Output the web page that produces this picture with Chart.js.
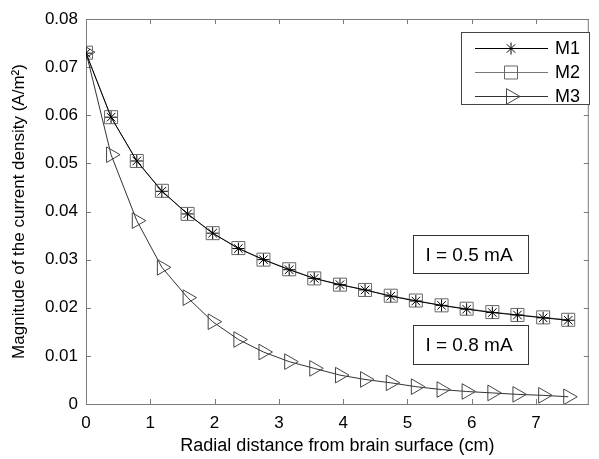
<!DOCTYPE html>
<html lang="en">
<head>
    <meta charset="UTF-8">
    <title>Current density vs radial distance</title>
    <script src="https://cdn.jsdelivr.net/npm/chart.js@4.4.1/dist/chart.umd.min.js"></script>
    <style>
        html, body {
            margin: 0;
            padding: 0;
            background: #fff;
        }

        #wrap {
            width: 599px;
            height: 459px;
        }
    </style>
</head>
<body>

<div id="wrap"><canvas id="myChart" width="599" height="459"></canvas></div>

<script>
    // radial distance (cm)
    var distances = [0, 0.39, 0.79, 1.18, 1.58, 1.97, 2.37, 2.76, 3.16, 3.55, 3.95, 4.34, 4.74, 5.13, 5.53, 5.92, 6.32, 6.71, 7.11, 7.5];

    // current density magnitude (A/m^2)
    var m1Values = [0.0729, 0.0596, 0.0505, 0.0442, 0.0395, 0.0355, 0.0323, 0.0300, 0.0279, 0.0261, 0.0248, 0.0237, 0.0224, 0.0214, 0.0205, 0.0197, 0.0190, 0.0185, 0.0179, 0.0174];
    var m2Values = [0.0730, 0.0596, 0.0505, 0.0443, 0.0395, 0.0355, 0.0324, 0.0300, 0.0280, 0.0261, 0.0248, 0.0237, 0.0225, 0.0215, 0.0205, 0.0198, 0.0191, 0.0185, 0.0180, 0.0175];
    var m3Values = [0.0731, 0.0518, 0.0381, 0.0284, 0.0221, 0.0171, 0.0134, 0.0108, 0.0088, 0.0074, 0.0060, 0.0051, 0.0044, 0.0036, 0.0030, 0.0026, 0.0023, 0.0020, 0.0018, 0.0015];

    var seriesNames = ['M1', 'M2', 'M3'];
    var yTicks = [0, 0.01, 0.02, 0.03, 0.04, 0.05, 0.06, 0.07, 0.08];
    var xTicks = [0, 1, 2, 3, 4, 5, 6, 7];
    var notes = ['I = 0.5 mA', 'I = 0.8 mA'];

    var FONT = 'Arial, "Liberation Sans", sans-serif';
    var AXIS_GREY = '#7a7a7a';

    function toPoints(vals) {
        return vals.map(function(v, i) { return { x: distances[i], y: v }; });
    }

    // inward tick marks + top/right frame, like the original figure
    var framePlugin = {
        id: 'frame',
        beforeDatasetsDraw: function(chart) {
            var ctx = chart.ctx, a = chart.chartArea;
            var xs = chart.scales.x, ys = chart.scales.y;
            ctx.save();
            ctx.strokeStyle = AXIS_GREY;
            ctx.lineWidth = 1;
            ctx.beginPath();
            ctx.moveTo(a.left, a.top + 0.5);
            ctx.lineTo(a.right, a.top + 0.5);
            ctx.moveTo(a.right - 0.5, a.top);
            ctx.lineTo(a.right - 0.5, a.bottom);
            xTicks.forEach(function(t) {
                var px = Math.round(xs.getPixelForValue(t)) + 0.5;
                ctx.moveTo(px, a.bottom);
                ctx.lineTo(px, a.bottom - 5);
                ctx.moveTo(px, a.top);
                ctx.lineTo(px, a.top + 5);
            });
            yTicks.forEach(function(t) {
                var py = Math.round(ys.getPixelForValue(t)) + 0.5;
                ctx.moveTo(a.left, py);
                ctx.lineTo(a.left + 5, py);
                ctx.moveTo(a.right, py);
                ctx.lineTo(a.right - 5, py);
            });
            ctx.stroke();
            ctx.restore();
        }
    };

    // text boxes and the boxed legend in the top right corner
    var overlayPlugin = {
        id: 'overlay',
        afterDatasetsDraw: function(chart) {
            var ctx = chart.ctx;
            var xs = chart.scales.x, ys = chart.scales.y;
            ctx.save();

            // annotation boxes, placed in data units
            var boxes = [
                { x0: 5.08, x1: 6.87, y0: 0.0352, y1: 0.0273 },
                { x0: 5.09, x1: 6.87, y0: 0.0164, y1: 0.0083 }
            ];
            ctx.font = '19px ' + FONT;
            ctx.textAlign = 'center';
            ctx.textBaseline = 'middle';
            boxes.forEach(function(b, i) {
                var l = Math.round(xs.getPixelForValue(b.x0)) + 0.5;
                var r = Math.round(xs.getPixelForValue(b.x1)) + 0.5;
                var t = Math.round(ys.getPixelForValue(b.y0)) + 0.5;
                var bt = Math.round(ys.getPixelForValue(b.y1)) + 0.5;
                ctx.fillStyle = '#fff';
                ctx.fillRect(l, t, r - l, bt - t);
                ctx.strokeStyle = '#333';
                ctx.lineWidth = 1;
                ctx.strokeRect(l, t, r - l, bt - t);
                ctx.fillStyle = '#000';
                ctx.fillText(notes[i], (l + r) / 2 - 2, (t + bt) / 2 + 1);
            });

            // legend
            var lx = 461.5, ly = 32.5, lw = 128, lh = 72;
            ctx.fillStyle = '#fff';
            ctx.fillRect(lx, ly, lw, lh);
            ctx.strokeStyle = '#444';
            ctx.strokeRect(lx, ly, lw, lh);
            ctx.font = '18px ' + FONT;
            ctx.textAlign = 'left';
            chart.data.datasets.forEach(function(ds, i) {
                var y = Math.round(ly + 15.5 + i * 24) + 0.5;
                ctx.strokeStyle = ds.borderColor;
                ctx.lineWidth = 1;
                ctx.beginPath();
                ctx.moveTo(475, y);
                ctx.lineTo(548, y);
                ctx.stroke();
                ctx.strokeStyle = ds.pointBorderColor;
                ctx.fillStyle = 'rgba(0,0,0,0)';
                Chart.helpers.drawPoint(ctx, {
                    pointStyle: ds.pointStyle,
                    rotation: ds.pointRotation || 0,
                    radius: ds.pointRadius,
                    borderWidth: 1
                }, 511, y);
                ctx.fillStyle = '#000';
                ctx.fillText(ds.label, 555, y + 1);
            });
            ctx.restore();
        }
    };

    var ctx = document.getElementById('myChart').getContext('2d');
    var myChart = new Chart(ctx, {
        type: 'line',
        data: {
            datasets: [
                {
                    label: seriesNames[0],
                    data: toPoints(m1Values),
                    borderColor: '#000',
                    borderWidth: 1,
                    pointStyle: 'star',
                    pointRadius: 6,
                    pointBorderColor: '#000',
                    pointBackgroundColor: 'rgba(0,0,0,0)',
                    pointBorderWidth: 1,
                    tension: 0
                },
                {
                    label: seriesNames[1],
                    data: toPoints(m2Values),
                    borderColor: '#777',
                    borderWidth: 1,
                    pointStyle: 'rect',
                    pointRadius: 9.2,
                    pointBorderColor: '#666',
                    pointBackgroundColor: 'rgba(0,0,0,0)',
                    pointBorderWidth: 1,
                    tension: 0
                },
                {
                    label: seriesNames[2],
                    data: toPoints(m3Values),
                    borderColor: '#333',
                    borderWidth: 1,
                    pointStyle: 'triangle',
                    pointRotation: 90,
                    pointRadius: 9,
                    pointBorderColor: '#444',
                    pointBackgroundColor: 'rgba(0,0,0,0)',
                    pointBorderWidth: 1,
                    tension: 0
                }
            ]
        },
        options: {
            responsive: false,
            animation: false,
            layout: {
                padding: { left: 0, right: 1, top: 19, bottom: 0 }
            },
            plugins: {
                legend: { display: false },
                tooltip: { enabled: false }
            },
            scales: {
                x: {
                    type: 'linear',
                    min: 0,
                    max: 7.82,
                    bounds: 'data',
                    grid: { display: false, drawTicks: false },
                    border: { color: AXIS_GREY, width: 1 },
                    ticks: {
                        stepSize: 1,
                        includeBounds: false,
                        padding: 9,
                        color: '#000',
                        font: { family: FONT, size: 17 },
                        maxRotation: 0
                    },
                    title: {
                        display: true,
                        text: 'Radial distance from brain surface (cm)',
                        color: '#000',
                        font: { family: FONT, size: 18 },
                        padding: { top: 0, bottom: 2 }
                    },
                    afterFit: function(scale) { scale.height = 55; }
                },
                y: {
                    type: 'linear',
                    min: 0,
                    max: 0.08,
                    grid: { display: false, drawTicks: false },
                    border: { color: AXIS_GREY, width: 1 },
                    ticks: {
                        stepSize: 0.01,
                        padding: 8,
                        color: '#000',
                        font: { family: FONT, size: 17 },
                        callback: function(v) { return v === 0 ? '0' : v.toFixed(2); }
                    },
                    title: {
                        display: true,
                        text: 'Magnitude of the current density (A/m\u00b2)',
                        color: '#000',
                        font: { family: FONT, size: 17 },
                        padding: { top: 9, bottom: 0 }
                    },
                    afterFit: function(scale) { scale.width = 86; }
                }
            }
        },
        plugins: [framePlugin, overlayPlugin]
    });
</script>

</body>
</html>
